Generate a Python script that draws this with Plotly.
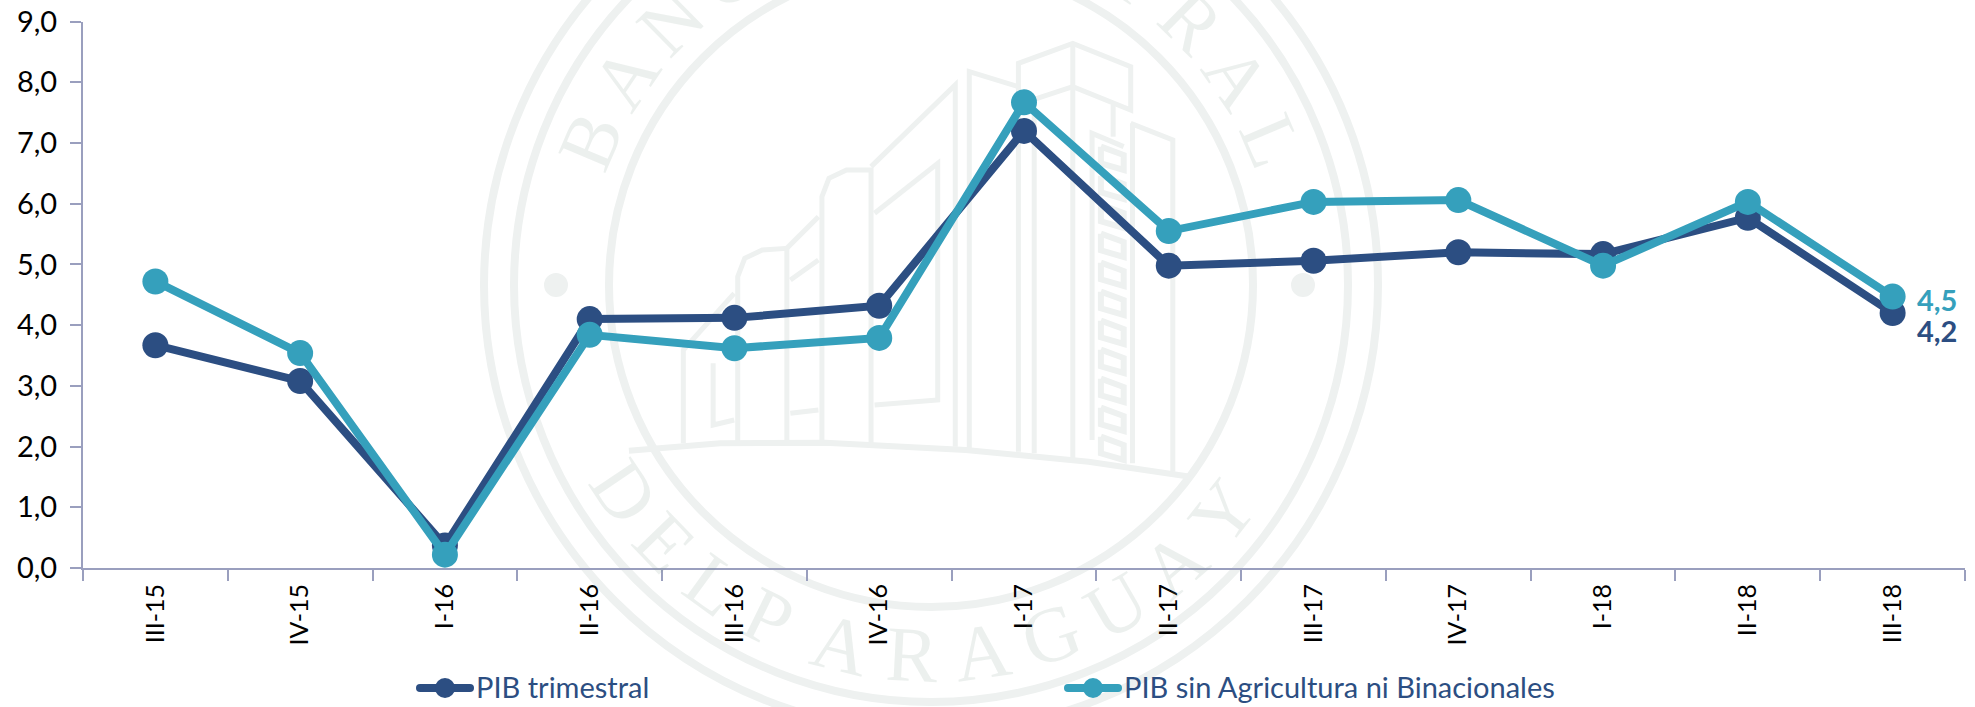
import math
import plotly.graph_objects as go

quarters = ["III-15", "IV-15", "I-16", "II-16", "III-16", "IV-16", "I-17", "II-17", "III-17", "IV-17", "I-18", "II-18", "III-18"]
pib_trimestral = [3.67, 3.08, 0.37, 4.10, 4.12, 4.32, 7.20, 4.98, 5.06, 5.20, 5.17, 5.77, 4.20]
pib_sin_agri = [4.72, 3.54, 0.22, 3.84, 3.62, 3.79, 7.67, 5.55, 6.03, 6.06, 4.98, 6.03, 4.47]
series_names = ["PIB trimestral", "PIB sin Agricultura ni Binacionales"]
end_labels = ["4,2", "4,5"]
y_ticks = [0, 1, 2, 3, 4, 5, 6, 7, 8, 9]

W, H = 1975, 707
L, R, T, B = 83, 1965, 21.6, 568
NAVY, TEAL = "#2C4E82", "#35A0BC"
AXIS = "#9A9FBE"
FONT = "Lato, 'Open Sans', sans-serif"
SEAL = "#EEF1F0"
SEAL_TEXT = "rgba(120,150,135,0.14)"

def px(x): return x / W
def py(y): return 1 - y / H

shapes = []
def circle(cx, cy, r, width=8, fill=None, color=SEAL):
    shapes.append(dict(type="circle", xref="paper", yref="paper", layer="below",
                       x0=px(cx - r), x1=px(cx + r), y0=py(cy + r), y1=py(cy - r),
                       line=dict(color=color, width=width), fillcolor=fill or "rgba(0,0,0,0)"))

CX, CY = 931, 285
for r in (447, 417, 322):
    circle(CX, CY, r)
circle(556, 285, 10, 4, SEAL)
circle(1303, 285, 10, 4, SEAL)

def bx(X): return 650 + X / 2.85
def by(Y): return 30 + Y / 3

def poly(points, width=5, close=False):
    d = "M " + " L ".join(f"{px(bx(a)):.5f},{py(by(b)):.5f}" for a, b in points)
    if close:
        d += " Z"
    shapes.append(dict(type="path", xref="paper", yref="paper", layer="below", path=d,
                       line=dict(color=SEAL, width=width)))

building = [
    [(95, 1240), (95, 960), (240, 790)],
    [(250, 1240), (250, 740), (270, 685), (320, 660), (390, 655), (390, 1240)],
    [(390, 655), (480, 560)], [(400, 750), (480, 690)], [(400, 1150), (480, 1140)],
    [(180, 1000), (180, 1185), (240, 1170)],
    [(490, 1240), (490, 500), (510, 445), (560, 420), (630, 420), (630, 1250)],
    [(630, 410), (870, 165), (870, 1250)],
    [(640, 550), (820, 400), (820, 1110), (640, 1125)],
    [(910, 1260), (910, 125), (1050, 170)],
    [(1050, 1265), (1050, 100), (1205, 40), (1370, 110), (1370, 240), (1205, 170), (1060, 220)],
    [(1095, 1270), (1095, 230)],
    [(1205, 1285), (1205, 40)],
    [(1320, 225), (1320, 320)],
    [(1370, 280), (1490, 330), (1490, 1325)],
    [(1375, 1300), (1375, 280)],
    [(1260, 1230), (1260, 310), (1350, 350)],
]
for b in building:
    poly(b)
for k in range(11):
    Y0 = 350 + k * 87
    poly([(1285, Y0), (1350, Y0 + 25), (1350, Y0 + 70), (1285, Y0 + 50), (1285, Y0)], 6)
poly([(-60, 1262), (200, 1240), (500, 1238), (900, 1260), (1250, 1295), (1540, 1340)], 6)

annotations = []
def letter(ch, ang, top=True, r=370, size=78):
    a = math.radians(ang)
    if top:
        x, y = CX + r * math.sin(a), CY - r * math.cos(a)
    else:
        x, y = CX - r * math.sin(a), CY + r * math.cos(a)
    annotations.append(dict(text=ch, x=px(x), y=py(y), xref="paper", yref="paper", showarrow=False,
                            textangle=ang, xanchor="center", yanchor="middle",
                            font=dict(family="'Liberation Serif', serif", size=size, color=SEAL_TEXT)))

for i, ch in enumerate("BANCO CENTRAL"):
    if ch != " ":
        letter(ch, -67 + i * 134 / 12, True)
for ch, ang in zip("DELPARAGUAY", [56, 46, 36, 26, 14, 3, -8, -19, -30, -41, -52]):
    letter(ch, ang, False)

annotations.append(dict(text=end_labels[1], x=12, y=pib_sin_agri[-1], xref="x", yref="y", showarrow=False,
                        xanchor="left", xshift=22, yshift=-3, font=dict(family=FONT, size=29, color=TEAL, weight=700)))
annotations.append(dict(text=end_labels[0], x=12, y=pib_trimestral[-1], xref="x", yref="y", showarrow=False,
                        xanchor="left", xshift=22, yshift=-17, font=dict(family=FONT, size=29, color=NAVY, weight=700)))

LEG_Y = 688
for name, col, x0 in [(series_names[0], NAVY, 416), (series_names[1], TEAL, 1064)]:
    shapes.append(dict(type="line", xref="paper", yref="paper", layer="above",
                       x0=px(x0 + 4), x1=px(x0 + 54), y0=py(LEG_Y), y1=py(LEG_Y),
                       line=dict(color=col, width=8)))
    for ex in (x0 + 4, x0 + 54):
        shapes.append(dict(type="circle", xref="paper", yref="paper", layer="above",
                           x0=px(ex - 4), x1=px(ex + 4), y0=py(LEG_Y + 4), y1=py(LEG_Y - 4),
                           line=dict(width=0), fillcolor=col))
    shapes.append(dict(type="circle", xref="paper", yref="paper", layer="above",
                       x0=px(x0 + 19), x1=px(x0 + 39), y0=py(LEG_Y + 10), y1=py(LEG_Y - 10),
                       line=dict(width=0), fillcolor=col))
    annotations.append(dict(text=name, x=px(x0 + 58), y=py(LEG_Y - 2), xref="paper", yref="paper", showarrow=False,
                            xanchor="left", yanchor="middle", font=dict(family=FONT, size=29, color=NAVY)))

fig = go.Figure()
for name, vals, col in [(series_names[0], pib_trimestral, NAVY), (series_names[1], pib_sin_agri, TEAL)]:
    fig.add_trace(go.Scatter(x=quarters, y=vals, name=name, mode="lines+markers", cliponaxis=False,
                             line=dict(color=col, width=8),
                             marker=dict(color=col, size=26, line=dict(width=0))))

fig.update_layout(
    width=W, height=H, paper_bgcolor="white", plot_bgcolor="rgba(0,0,0,0)", showlegend=False,
    margin=dict(l=0, r=0, t=0, b=0, pad=0), separators=",.",
    font=dict(family=FONT, color="black"), shapes=shapes, annotations=annotations,
    xaxis=dict(type="category", categoryorder="array", categoryarray=quarters, range=[-0.5, 12.5],
               domain=[px(L), px(R)], automargin=False,
               tickson="boundaries", ticks="outside", ticklen=11, tickwidth=2, tickcolor=AXIS,
               showline=True, linecolor=AXIS, linewidth=2, showgrid=False, zeroline=False,
               tickangle=-90, tickfont=dict(family=FONT, size=25, color="black"), ticklabelstandoff=4),
    yaxis=dict(range=[0, 9], tickvals=y_ticks, tickformat=".1f", ticks="outside", ticklen=11, tickwidth=2,
               domain=[py(B), py(T)], automargin=False,
               tickcolor=AXIS, showline=True, linecolor=AXIS, linewidth=2, showgrid=False, zeroline=False,
               tickfont=dict(family=FONT, size=29, color="black"), ticklabelstandoff=7),
)
fig.write_html("out.html", config={"displayModeBar": False}, post_script="document.body.style.margin='0';")
